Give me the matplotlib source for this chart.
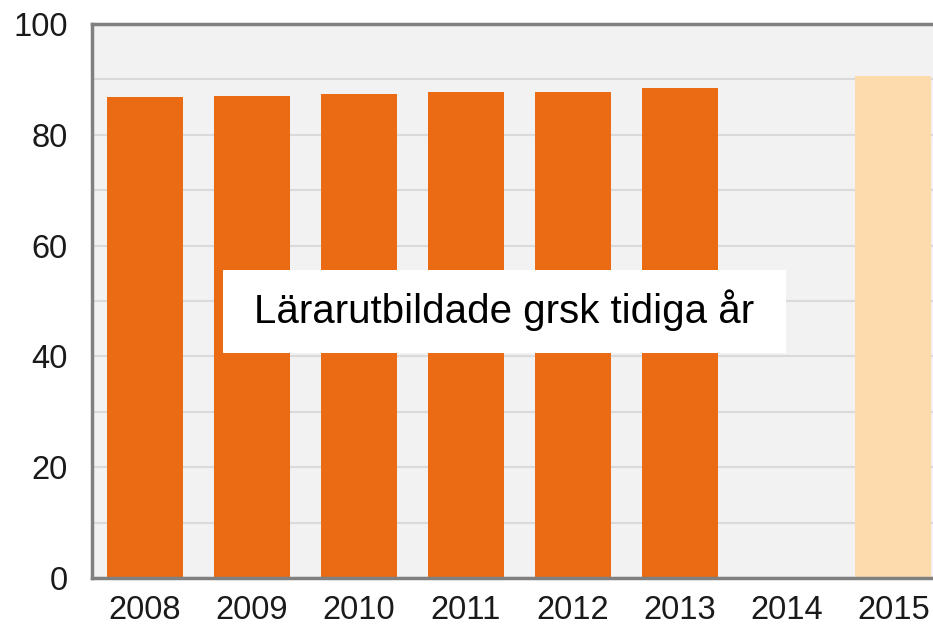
import numpy as np
import matplotlib
matplotlib.use("Agg")
import matplotlib.pyplot as plt
from matplotlib.patches import Rectangle

plt.rcParams['font.family'] = ['Liberation Sans', 'DejaVu Sans']

years = ['2008', '2009', '2010', '2011', '2012', '2013', '2014', '2015']
values = [86.9, 87.0, 87.4, 87.7, 87.7, 88.4, 0, 90.7]
colors = ['#EB6A14'] * 6 + ['#EB6A14', '#FDDBAC']
label = 'Lärarutbildade grsk tidiga år'

W, H = 933, 624
fig = plt.figure(figsize=(W / 100, H / 100), dpi=100)
ax = fig.add_axes([91.5 / W, (H - 578) / H, 1 - 91.5 / W, (578 - 24) / H])
ax.set_facecolor('#F2F2F2')

x = np.arange(len(years))
ax.bar(x, values, width=0.71, color=colors, edgecolor='none', zorder=2)

ax.set_xlim(-0.5, 7.37)
ax.set_ylim(0, 100)
ax.set_yticks(np.arange(0, 101, 20))
ax.set_yticks(np.arange(10, 100, 20), minor=True)
ax.grid(axis='y', which='both', color='#DADADA', linewidth=1.5, zorder=1)
ax.set_xticks(x)
ax.set_xticklabels(years)
ax.tick_params(axis='both', which='both', length=0, labelsize=23.5, colors='#1A1A1A')
ax.tick_params(axis='x', pad=12)
ax.tick_params(axis='y', pad=17)

for s in ['left', 'bottom', 'top']:
    ax.spines[s].set_color('#808080')
    ax.spines[s].set_linewidth(2.5)
ax.spines['right'].set_visible(False)

fig.patches.append(Rectangle((223 / W, (H - 353) / H), (786 - 223) / W, (353 - 270) / H,
                             transform=fig.transFigure, facecolor='white', edgecolor='none', zorder=5))
fig.text(254 / W, (H - 310) / H, label, fontsize=29, color='black', ha='left', va='center', zorder=6)

fig.savefig('out.png', dpi=100)
